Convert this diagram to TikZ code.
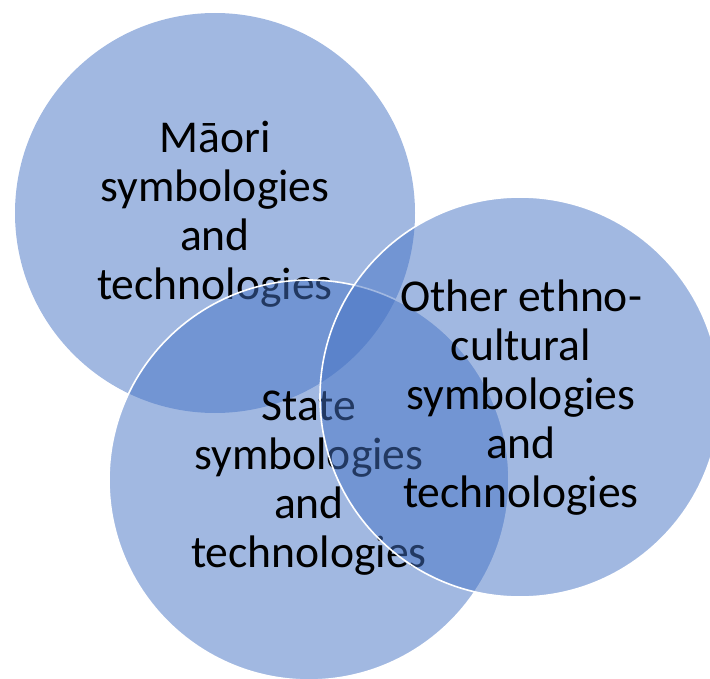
\documentclass[tikz,border=0pt]{standalone}
\usepackage{fontspec}
\setmainfont{Carlito}
\definecolor{vennblue}{HTML}{4472C4}
\begin{document}
\begin{tikzpicture}[x=1pt,y=-1pt,
  venn/.style={fill=vennblue,fill opacity=0.5},
  rim/.style={draw=white,line width=1.6pt},
  vlabel/.style={align=center,text=black,inner sep=0pt,
    font=\fontsize{45.6}{49}\selectfont}]
  \useasboundingbox (0,0) rectangle (710,679);
  \begin{scope}
    \clip (0,0) rectangle (710,679);
    % Maori circle and its label
    \fill[venn] (215,213) circle[radius=200];
    \node[vlabel] (maori) at (215,214) {Māori\\symbologies\\and\\technologies};
    % State circle and its label
    \fill[venn] (309,480) circle[radius=200];
    \draw[rim] (309,480) circle[radius=200];
    \node[vlabel] (state) at (309,483) {State\\symbologies\\and\\technologies};
    % Other ethno-cultural circle and its label
    \fill[venn] (520,397) circle[radius=200];
    \draw[rim] (520,397) circle[radius=200];
    \node[vlabel] (other) at (521,398) {Other ethno-\\cultural\\symbologies\\and\\technologies};
  \end{scope}
\end{tikzpicture}
\end{document}
